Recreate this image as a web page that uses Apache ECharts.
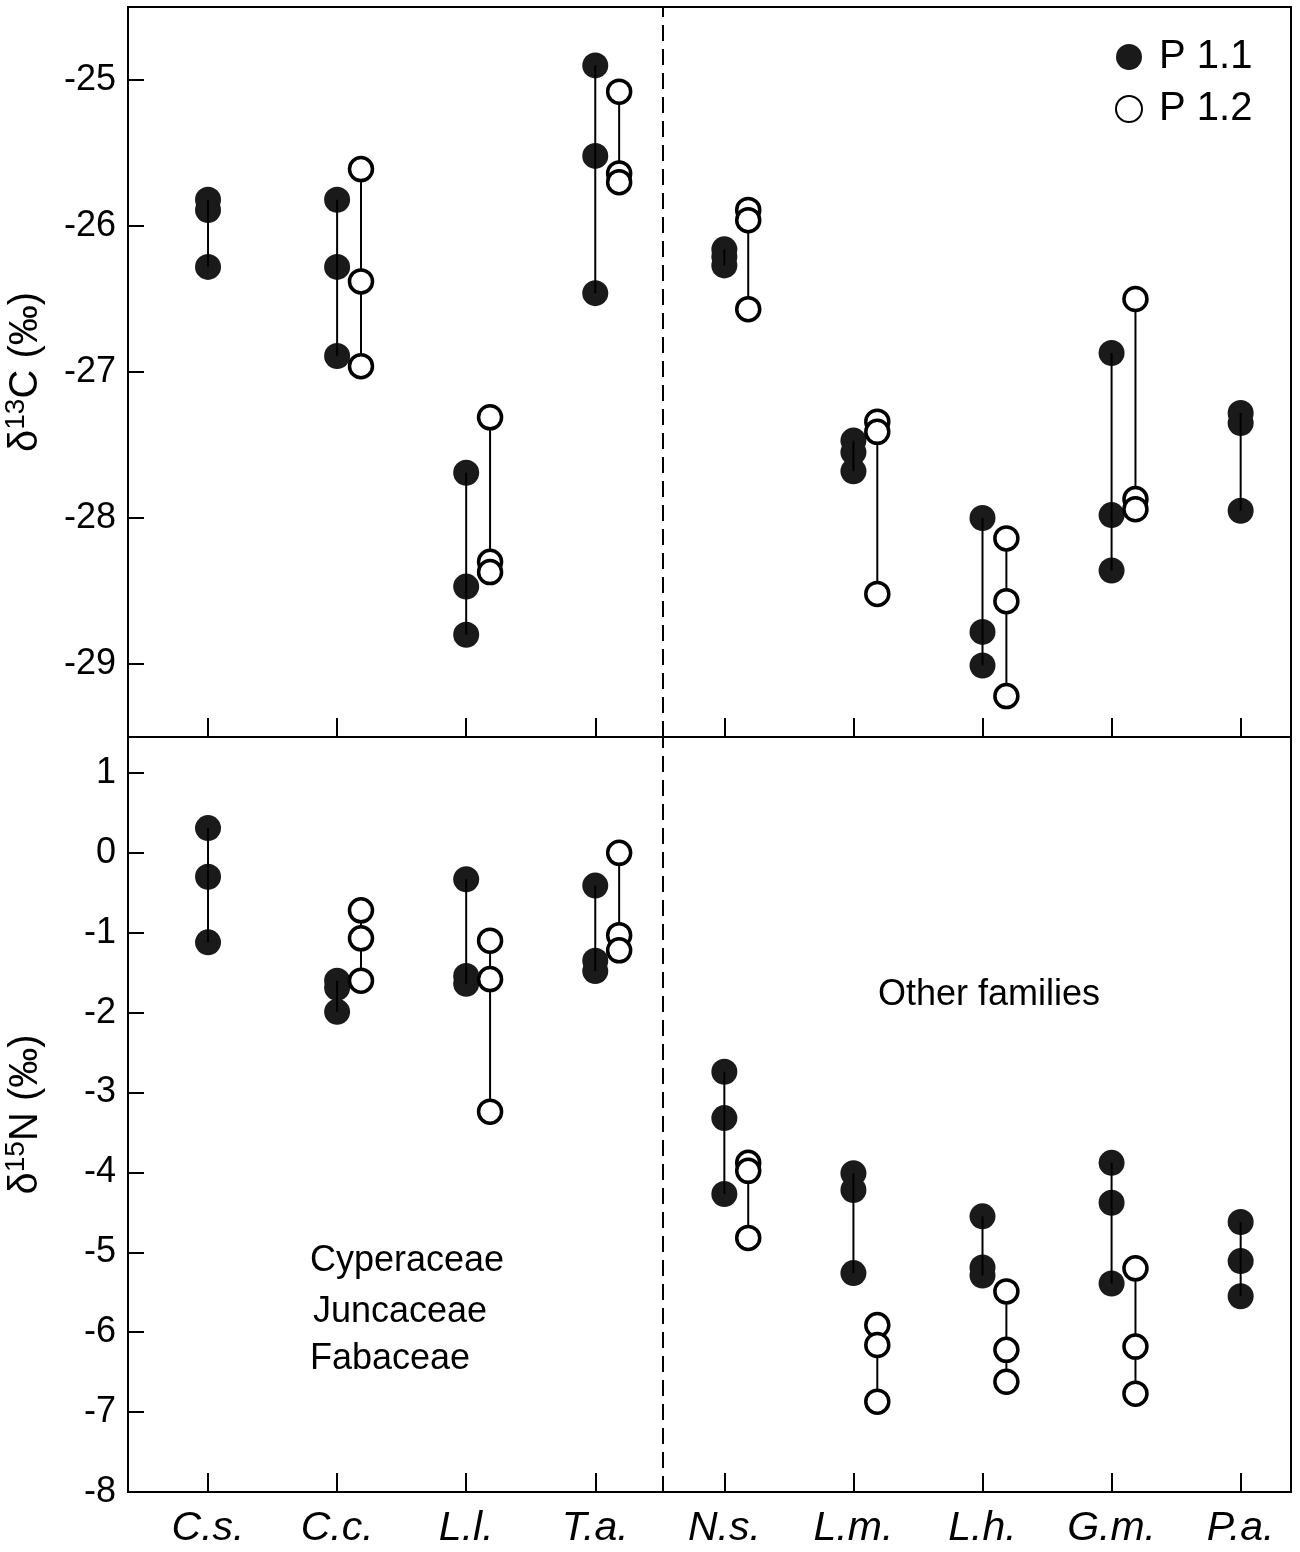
<!DOCTYPE html>
<html>
<head>
<meta charset="utf-8">
<title>δ13C / δ15N</title>
<script src="https://cdn.jsdelivr.net/npm/echarts@6/dist/echarts.min.js"></script>
<style>
  html, body { margin: 0; padding: 0; background: #fff; }
  #chart { width: 1300px; height: 1552px; }
</style>
</head>
<body>
<div id="chart"></div>
<script>
// species along the x axis
const species = ['C.s.', 'C.c.', 'L.l.', 'T.a.', 'N.s.', 'L.m.', 'L.h.', 'G.m.', 'P.a.']

// δ13C, three samples per species (null = not sampled)
const c13P11 = [
  [-25.82, -25.89, -26.28],
  [-25.82, -26.28, -26.89],
  [-27.69, -28.47, -28.80],
  [-24.90, -25.52, -26.46],
  [-26.16, -26.21, -26.27],
  [-27.47, -27.55, -27.68],
  [-28.00, -28.78, -29.01],
  [-26.87, -27.98, -28.36],
  [-27.28, -27.35, -27.95]
]
const c13P12 = [
  null,
  [-25.61, -26.38, -26.96],
  [-27.31, -28.30, -28.37],
  [-25.08, -25.64, -25.70],
  [-25.89, -25.96, -26.57],
  [-27.34, -27.41, -28.52],
  [-28.14, -28.57, -29.22],
  [-26.50, -27.87, -27.94],
  null
]

// δ15N
const n15P11 = [
  [0.31, -0.30, -1.12],
  [-1.60, -1.69, -1.99],
  [-0.33, -1.54, -1.64],
  [-0.41, -1.35, -1.48],
  [-2.74, -3.32, -4.27],
  [-4.01, -4.22, -5.26],
  [-4.55, -5.19, -5.29],
  [-3.88, -4.38, -5.39],
  [-4.62, -5.11, -5.55]
]
const n15P12 = [
  null,
  [-0.72, -1.07, -1.60],
  [-1.10, -1.58, -3.24],
  [0.00, -1.03, -1.22],
  [-3.88, -3.98, -4.82],
  [-5.91, -6.16, -6.87],
  [-5.49, -6.22, -6.62],
  [-5.20, -6.18, -6.77],
  null
]

// tick labels
const c13Ticks = [-29, -28, -27, -26, -25]
const n15Ticks = [-8, -7, -6, -5, -4, -3, -2, -1, 0, 1]
const xTicks = [0, 1, 2, 3, 4, 5, 6, 7, 8]

const FONT = 'Liberation Sans, Arial, Helvetica, sans-serif'
const OFFSET = 0.185   // P 1.2 sits a bit right of P 1.1
const DIVIDER = 3.52   // dashed line between the two family groups

// flatten groups into [x, y] points
function toPoints(groups, dx) {
  const out = []
  groups.forEach((g, i) => {
    if (!g) return
    g.forEach(v => out.push([i + dx, v]))
  })
  return out
}

// [x, min, max] for the vertical connectors
function toRanges(groups, dx) {
  const out = []
  groups.forEach((g, i) => {
    if (!g) return
    out.push([i + dx, Math.min(...g), Math.max(...g)])
  })
  return out
}

function connector(params, api) {
  const a = api.coord([api.value(0), api.value(1)])
  const b = api.coord([api.value(0), api.value(2)])
  return {
    type: 'line',
    shape: { x1: a[0], y1: a[1], x2: b[0], y2: b[1] },
    style: { stroke: '#000', lineWidth: 2 }
  }
}

const filledStyle = { color: '#1a1a1a', opacity: 1 }
const openStyle = { color: '#fff', borderColor: '#000', borderWidth: 3.5, opacity: 1 }

const dashed = {
  silent: true,
  symbol: 'none',
  label: { show: false },
  lineStyle: { type: [16, 8], color: '#000', width: 2 },
  data: [{ xAxis: DIVIDER }]
}

function xAxisFor(idx, withLabels) {
  return {
    type: 'value',
    gridIndex: idx,
    min: -0.62,
    max: 8.39,
    axisLine: { show: true, onZero: false, lineStyle: { color: '#000', width: 2 } },
    axisTick: { show: true, inside: true, length: 19, customValues: xTicks, lineStyle: { color: '#000', width: 2 } },
    axisLabel: {
      show: withLabels,
      customValues: xTicks,
      formatter: v => species[v],
      color: '#000',
      fontSize: 41,
      fontStyle: 'italic',
      fontFamily: FONT,
      margin: 16
    },
    splitLine: { show: false }
  }
}

function yAxisFor(idx, min, max, ticks, iso, elem) {
  return {
    type: 'value',
    gridIndex: idx,
    min: min,
    max: max,
    axisLine: { show: true, onZero: false, lineStyle: { color: '#000', width: 2 } },
    axisTick: { show: true, inside: true, length: 16, customValues: ticks, lineStyle: { color: '#000', width: 2 } },
    axisLabel: { customValues: ticks, color: '#000', fontSize: 36, fontFamily: FONT, margin: 12 },
    splitLine: { show: false },
    name: '{t|δ}{s|' + iso + '}{t|' + elem + ' (‰)}',
    nameLocation: 'middle',
    nameGap: 78,
    nameRotate: 90,
    nameTextStyle: {
      rich: {
        t: { fontSize: 40, fontFamily: FONT, color: '#000', lineHeight: 48 },
        s: { fontSize: 28, fontFamily: FONT, color: '#000', verticalAlign: 'top', lineHeight: 48 }
      }
    }
  }
}

const chart = echarts.init(document.getElementById('chart'), null, { renderer: 'canvas' })

chart.setOption({
  backgroundColor: '#fff',
  animation: false,
  grid: [
    { left: 128, top: 7, width: 1163, height: 730, outerBoundsMode: 'none', containLabel: false, show: true, borderColor: '#000', borderWidth: 2 },
    { left: 128, top: 737, width: 1163, height: 755, outerBoundsMode: 'none', containLabel: false, show: true, borderColor: '#000', borderWidth: 2 }
  ],
  legend: {
    data: ['P 1.1', 'P 1.2'],
    orient: 'vertical',
    left: 1110,
    top: 32,
    itemWidth: 26,
    itemHeight: 26,
    itemGap: 12,
    textStyle: { fontSize: 40, fontFamily: FONT, color: '#000', lineHeight: 40, padding: [0, 0, 0, 12] }
  },
  xAxis: [xAxisFor(0, false), xAxisFor(1, true)],
  yAxis: [
    yAxisFor(0, -29.5, -24.5, c13Ticks, '13', 'C'),
    yAxisFor(1, -8, 1.45, n15Ticks, '15', 'N')
  ],
  graphic: [
    { type: 'text', left: 878, top: 977, style: { text: 'Other families', fontSize: 36, fontFamily: FONT, fill: '#000' } },
    { type: 'text', left: 310, top: 1243, style: { text: 'Cyperaceae', fontSize: 36, fontFamily: FONT, fill: '#000' } },
    { type: 'text', left: 313, top: 1294, style: { text: 'Juncaceae', fontSize: 36, fontFamily: FONT, fill: '#000' } },
    { type: 'text', left: 310, top: 1341, style: { text: 'Fabaceae', fontSize: 36, fontFamily: FONT, fill: '#000' } }
  ],
  series: [
    {
      name: 'P 1.1', type: 'scatter', xAxisIndex: 0, yAxisIndex: 0, z: 2,
      symbol: 'circle', symbolSize: 26, itemStyle: filledStyle,
      data: toPoints(c13P11, 0), markLine: dashed
    },
    {
      type: 'custom', xAxisIndex: 0, yAxisIndex: 0, z: 3, silent: true,
      renderItem: connector, encode: { x: 0, y: [1, 2] },
      data: toRanges(c13P11, 0).concat(toRanges(c13P12, OFFSET))
    },
    {
      name: 'P 1.2', type: 'scatter', xAxisIndex: 0, yAxisIndex: 0, z: 4,
      symbol: 'circle', symbolSize: 23, itemStyle: openStyle,
      data: toPoints(c13P12, OFFSET)
    },
    {
      name: 'P 1.1', type: 'scatter', xAxisIndex: 1, yAxisIndex: 1, z: 2,
      symbol: 'circle', symbolSize: 26, itemStyle: filledStyle,
      data: toPoints(n15P11, 0), markLine: dashed
    },
    {
      type: 'custom', xAxisIndex: 1, yAxisIndex: 1, z: 3, silent: true,
      renderItem: connector, encode: { x: 0, y: [1, 2] },
      data: toRanges(n15P11, 0).concat(toRanges(n15P12, OFFSET))
    },
    {
      name: 'P 1.2', type: 'scatter', xAxisIndex: 1, yAxisIndex: 1, z: 4,
      symbol: 'circle', symbolSize: 23, itemStyle: openStyle,
      data: toPoints(n15P12, OFFSET)
    }
  ]
})
</script>
</body>
</html>
